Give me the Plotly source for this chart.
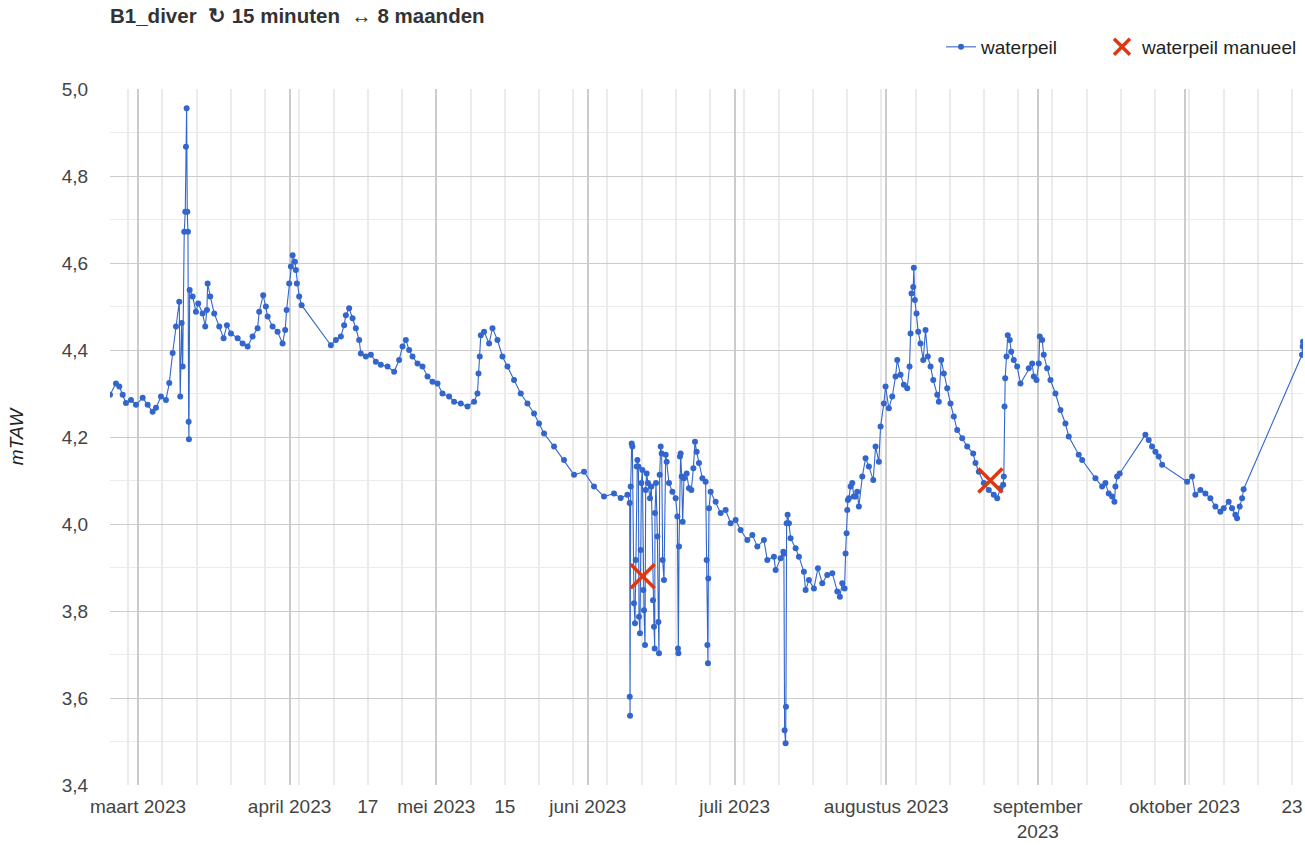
import pandas as pd
import plotly.graph_objects as go

# ---- data ----
# time as days since 2023-03-01 00:00
days = [
 -5.72, -4.50, -3.82, -3.13, -2.45, -1.43, -0.41, 0.96, 1.98, 3.00, 3.68, 4.70, 5.72, 6.40, 7.09, 7.77,
 8.44, 8.64, 8.93, 9.14, 9.46, 9.67, 9.81, 9.95, 10.08, 10.22, 10.36, 10.42, 10.57, 11.18, 11.85, 12.32,
 13.22, 13.75, 14.10, 14.24, 14.78, 15.59, 16.62, 17.51, 18.19, 19.01, 20.38, 21.40, 22.42, 23.44, 24.46,
 24.79, 25.61, 26.16, 26.51, 27.53, 28.55, 29.57, 30.10, 30.39, 30.92, 31.27, 31.62, 32.09, 32.29, 32.49,
 32.96, 33.46,
 39.44, 40.47, 41.49, 42.16, 42.51, 43.18, 43.88, 44.55, 45.23, 45.57, 46.60, 47.62, 48.64, 49.66, 51.03,
 52.38, 53.40, 54.10, 54.77, 55.45, 56.14, 57.16, 58.18, 59.21, 60.23, 61.25, 62.27, 63.62, 64.64, 66.01,
 67.38, 68.73, 69.42, 69.63, 69.89, 70.10, 70.77, 71.80, 72.49, 73.51, 74.53, 75.56, 76.90, 78.27, 79.64,
 80.99, 82.01, 83.04, 85.08, 87.12, 89.17, 91.21, 93.25, 95.30, 97.34, 98.71, 100.08,
 100.55, 100.56, 100.62, 100.75, 100.96, 101.10, 101.43, 101.63, 101.78, 101.98, 102.12, 102.33, 102.45,
 102.65, 102.80, 102.94, 103.14, 103.35, 103.47, 103.68, 103.82, 104.02, 104.29, 104.70, 104.98, 105.31,
 105.52, 105.66, 105.72, 105.93, 106.21, 106.42, 106.54, 106.68, 106.89, 107.09, 107.29, 107.56, 107.91,
 108.11, 108.58, 109.28, 109.95, 110.30, 110.42, 110.50, 110.63, 110.83, 110.97, 111.18, 111.38, 111.65,
 112.20, 112.67, 113.16, 113.57, 113.90, 114.24, 114.71, 115.41, 116.08, 116.29, 116.43, 116.55, 116.63,
 116.76, 117.10, 118.13, 119.15, 120.17, 121.19, 122.21, 123.23, 124.60, 125.63, 126.65, 128.00, 128.69,
 130.04, 130.39, 131.41, 131.96, 132.08, 132.23, 132.43, 132.50, 132.64, 132.84, 133.11, 133.45, 134.48,
 135.15, 136.17, 136.52, 137.20, 138.22, 139.04, 139.93, 140.95, 141.98, 143.00, 143.53, 144.02, 144.49,
 144.69, 144.90, 145.04, 145.16, 145.37, 145.72, 146.06, 146.39, 146.74, 147.08, 147.41, 148.11, 148.78,
 149.46, 150.35, 150.83, 151.50, 151.85, 152.52, 152.87, 153.54, 154.24, 154.91, 155.26, 155.93, 156.61,
 157.30, 157.77, 157.98, 158.18, 158.53, 158.65, 158.86, 159.20, 159.55, 160.02, 160.57, 161.04, 161.51,
 162.07, 162.62, 163.44, 163.76, 164.25, 164.78, 165.48, 166.15, 166.83, 167.52, 168.54, 169.56, 170.79,
 171.26, 171.94, 172.96, 173.98, 175.00, 175.70, 176.37, 176.92, 177.05, 177.19, 177.33, 177.60, 177.86,
 178.27, 178.56, 179.09, 179.78, 180.46, 182.16, 182.85, 183.18, 183.73, 184.20, 184.40, 184.89, 185.22,
 185.91, 186.59, 187.61, 188.63, 189.65, 190.33, 192.37, 193.07, 195.79, 197.16, 197.83, 198.50, 199.20,
 199.67, 199.87, 200.22, 200.75, 206.00, 206.68, 207.37, 208.05, 208.72, 209.42, 214.53, 215.55, 216.22,
 217.25, 218.27, 219.29, 220.31, 221.33, 222.01, 223.03, 223.72, 224.40, 224.75, 225.28, 225.77, 226.09,
 238.03, 238.16, 238.23,
]
waterpeil = [
 4.297, 4.323, 4.316, 4.297, 4.278, 4.285, 4.274, 4.290, 4.274, 4.258, 4.267, 4.293, 4.285, 4.324, 4.393, 4.454,
 4.511, 4.293, 4.462, 4.362, 4.672, 4.718, 4.867, 4.956, 4.718, 4.672, 4.235, 4.195, 4.538, 4.523, 4.488, 4.507,
 4.484, 4.454, 4.492, 4.553, 4.523, 4.484, 4.454, 4.427, 4.457, 4.438, 4.427, 4.415, 4.408, 4.431, 4.450,
 4.488, 4.526, 4.500, 4.477, 4.454, 4.442, 4.415, 4.446, 4.492, 4.553, 4.592, 4.618, 4.603, 4.584, 4.553,
 4.523, 4.503,
 4.411, 4.423, 4.431, 4.457, 4.480, 4.496, 4.473, 4.450, 4.423, 4.392, 4.385, 4.389, 4.373, 4.366, 4.362,
 4.350, 4.377, 4.408, 4.423, 4.400, 4.385, 4.369, 4.362, 4.339, 4.327, 4.323, 4.300, 4.293, 4.281, 4.277,
 4.270, 4.281, 4.300, 4.346, 4.385, 4.434, 4.442, 4.415, 4.450, 4.423, 4.385, 4.362, 4.331, 4.300, 4.277,
 4.254, 4.231, 4.208, 4.178, 4.147, 4.113, 4.120, 4.086, 4.063, 4.070, 4.060, 4.067,
 4.048, 3.603, 3.559, 4.086, 4.185, 4.178, 3.818, 3.772, 3.917, 4.132, 4.147, 4.132, 3.787,
 3.749, 3.940, 4.094, 4.124, 3.848, 3.802, 3.722, 4.078, 4.116, 4.094, 4.059, 4.086, 3.825,
 3.764, 3.714, 4.025, 4.094, 3.971, 3.775, 3.703, 4.113, 4.178, 4.162, 3.917, 3.871, 4.159,
 4.143, 4.094, 4.074, 4.059, 4.017, 3.714, 3.703, 3.948, 4.155, 4.162, 4.109, 4.005, 4.105,
 4.116, 4.082, 4.078, 4.128, 4.189, 4.166, 4.140, 4.105, 4.097, 3.917, 3.722, 3.680, 3.875,
 4.036, 4.074, 4.051, 4.025, 4.032, 4.002, 4.009, 3.986, 3.963, 3.975, 3.948, 3.963, 3.917,
 3.925, 3.894, 3.921, 3.936, 3.932, 3.526, 3.496, 3.580, 4.002, 4.021, 4.002, 3.967, 3.944,
 3.925, 3.890, 3.848, 3.871, 3.852, 3.898, 3.864, 3.883, 3.887, 3.845, 3.833, 3.864, 3.852,
 3.932, 3.979, 4.032, 4.055, 4.059, 4.086, 4.094, 4.063, 4.063, 4.074, 4.040, 4.109, 4.151,
 4.132, 4.101, 4.178, 4.143, 4.224, 4.277, 4.316, 4.266, 4.293, 4.339, 4.377, 4.343, 4.320,
 4.312, 4.362, 4.438, 4.530, 4.545, 4.589, 4.515, 4.484, 4.442, 4.415, 4.377, 4.446, 4.385,
 4.362, 4.331, 4.297, 4.281, 4.377, 4.346, 4.312, 4.277, 4.247, 4.216, 4.197, 4.178, 4.162,
 4.140, 4.120, 4.094, 4.078, 4.067, 4.059, 4.082, 4.090, 4.109, 4.270, 4.335, 4.385, 4.434,
 4.423, 4.396, 4.377, 4.362, 4.323, 4.358, 4.369, 4.339, 4.331, 4.369, 4.431, 4.423, 4.389,
 4.358, 4.331, 4.300, 4.262, 4.231, 4.201, 4.159, 4.147, 4.105, 4.086, 4.094, 4.070, 4.063,
 4.051, 4.086, 4.109, 4.116, 4.205, 4.193, 4.178, 4.166, 4.155, 4.136, 4.097, 4.109, 4.067,
 4.078, 4.070, 4.059, 4.040, 4.028, 4.036, 4.051, 4.036, 4.021, 4.013, 4.040, 4.059, 4.080,
 4.389, 4.408, 4.419,
]
manual_days = [103.2, 174.3]
manual_values = [3.88, 4.10]

tick_dates = ["2023-03-01", "2023-04-01", "2023-04-17", "2023-05-01", "2023-05-15", "2023-06-01",
              "2023-07-01", "2023-08-01", "2023-09-01", "2023-10-01", "2023-10-23"]
tick_labels = ["maart 2023", "april 2023", "17", "mei 2023", "15", "juni 2023",
               "juli 2023", "augustus 2023", "september<br>2023", "oktober 2023", "23"]

base = pd.Timestamp("2023-03-01")
t = base + pd.to_timedelta(days, unit="D")
t_manual = base + pd.to_timedelta(manual_days, unit="D")

month_starts = pd.date_range("2023-03-01", "2023-10-01", freq="MS")
mondays = pd.date_range("2023-02-20", "2023-10-30", freq="W-MON")
x_range = [t.min(), t.max()]

FONT = "Arial, 'Liberation Sans', sans-serif"
FS = 19

fig = go.Figure()
fig.add_trace(go.Scatter(
    x=t, y=waterpeil, mode="lines+markers", name="waterpeil",
    line=dict(color="#3366cc", width=1.1),
    marker=dict(color="#3366cc", size=6),
    legendwidth=116,
))
fig.add_trace(go.Scatter(
    x=t_manual, y=manual_values, mode="markers", name="waterpeil manueel",
    xaxis="x2",
    marker=dict(color="#dc3912", size=24, symbol="x-thin",
                line=dict(width=3.5, color="#dc3912")),
))

fig.add_annotation(
    xref="paper", yref="paper", x=0, y=1 + 74 / 696, xanchor="left", yanchor="middle",
    xshift=-2, showarrow=False,
    text="<b>B1_diver&nbsp;&nbsp;↻ 15 minuten&nbsp;&nbsp;↔ 8 maanden</b>",
    font=dict(family=FONT, size=20.5, color="#333333"),
)

fig.update_layout(
    width=1305, height=845,
    margin=dict(l=110, r=2, t=89, b=60, autoexpand=False),
    paper_bgcolor="white", plot_bgcolor="white",
    separators=",.",
    font=dict(family=FONT, size=FS, color="#444444"),
    legend=dict(
        orientation="h", x=1, xanchor="right", y=1 + 42 / 696, yanchor="middle",
        font=dict(family=FONT, size=FS, color="#222222"),
        bgcolor="rgba(0,0,0,0)",
    ),
    showlegend=True,
    xaxis=dict(
        range=x_range, type="date",
        tickmode="array", tickvals=month_starts, showticklabels=False, ticks="",
        showgrid=True, gridcolor="#cccccc", gridwidth=1.5,
        zeroline=False, showline=False, automargin=False,
        minor=dict(tickmode="array", tickvals=mondays, showgrid=True, gridcolor="#ebebeb", gridwidth=1.5),
    ),
    xaxis2=dict(
        range=x_range, type="date", overlaying="x", anchor="y", side="bottom", matches="x",
        tickmode="array", tickvals=pd.to_datetime(tick_dates), ticktext=tick_labels,
        ticks="outside", ticklen=4, tickcolor="rgba(0,0,0,0)",
        showgrid=False, zeroline=False, showline=False, automargin=False,
        tickfont=dict(family=FONT, size=FS, color="#444444"),
    ),
    yaxis=dict(
        range=[3.4, 5.0], tickmode="array", tickvals=[3.4, 3.6, 3.8, 4.0, 4.2, 4.4, 4.6, 4.8, 5.0],
        tickformat=".1f", showgrid=True, gridcolor="#cccccc", gridwidth=1,
        ticks="outside", ticklen=17, tickcolor="rgba(0,0,0,0)",
        zeroline=False, showline=False, automargin=False,
        minor=dict(dtick=0.1, showgrid=True, gridcolor="#ebebeb", gridwidth=1),
        title=dict(text="<i>mTAW</i>", standoff=33, font=dict(family=FONT, size=FS, color="#222222")),
        tickfont=dict(family=FONT, size=FS, color="#444444"),
    ),
)

fig.write_html(
    "out.html",
    config={"displayModeBar": False},
    post_script="document.body.style.margin='0';document.body.style.overflow='hidden';",
)
